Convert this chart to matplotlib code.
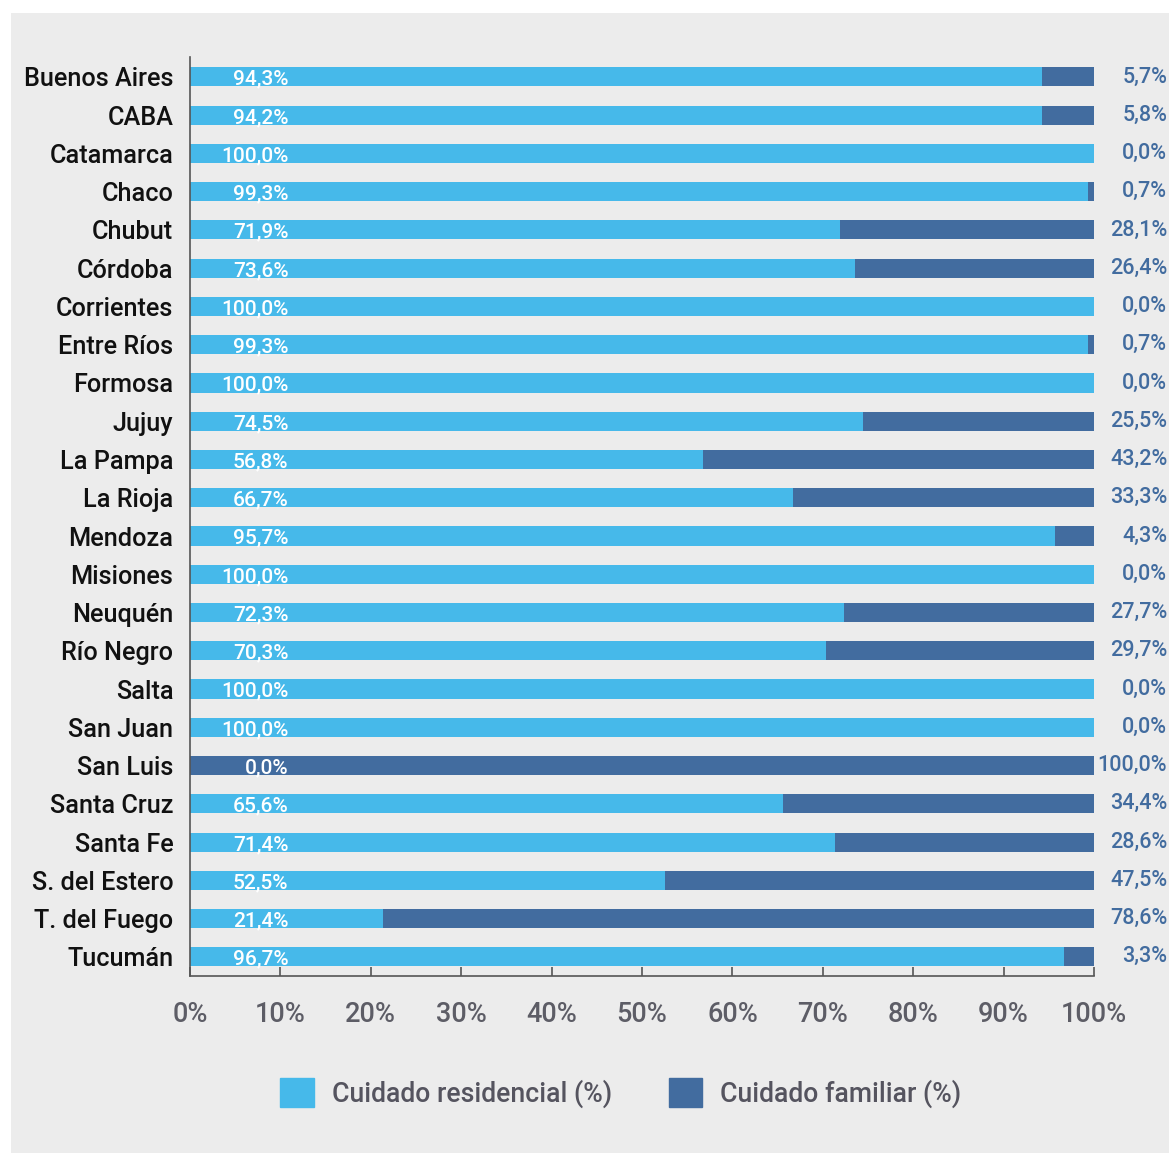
import numpy as np
import matplotlib.pyplot as plt
from matplotlib.patches import Rectangle, Patch

plt.rcParams['font.family'] = ['Roboto', 'DejaVu Sans']
plt.rcParams['font.weight'] = 'medium'

provincias = ['Buenos Aires', 'CABA', 'Catamarca', 'Chaco', 'Chubut', 'Córdoba',
              'Corrientes', 'Entre Ríos', 'Formosa', 'Jujuy', 'La Pampa', 'La Rioja',
              'Mendoza', 'Misiones', 'Neuquén', 'Río Negro', 'Salta', 'San Juan',
              'San Luis', 'Santa Cruz', 'Santa Fe', 'S. del Estero', 'T. del Fuego',
              'Tucumán']
residencial = [94.3, 94.2, 100.0, 99.3, 71.9, 73.6, 100.0, 99.3, 100.0, 74.5, 56.8,
               66.7, 95.7, 100.0, 72.3, 70.3, 100.0, 100.0, 0.0, 65.6, 71.4, 52.5,
               21.4, 96.7]
familiar = [5.7, 5.8, 0.0, 0.7, 28.1, 26.4, 0.0, 0.7, 0.0, 25.5, 43.2, 33.3, 4.3,
            0.0, 27.7, 29.7, 0.0, 0.0, 100.0, 34.4, 28.6, 47.5, 78.6, 3.3]
xticks = [0, 10, 20, 30, 40, 50, 60, 70, 80, 90, 100]

c_res = '#46b9ea'
c_fam = '#426c9f'
bg = '#ececec'

def fmt(v):
    return ('%.1f%%' % v).replace('.', ',')

fig = plt.figure(figsize=(11.69, 11.53), dpi=100, facecolor='white')
fig.patches.append(Rectangle((11 / 1169, 0), 1 - 11 / 1169, 1 - 13 / 1153,
                             transform=fig.transFigure, facecolor=bg,
                             edgecolor='none', zorder=-10))

ax = fig.add_axes([190 / 1169, 177 / 1153, 904 / 1169, 919 / 1153])
ax.set_facecolor(bg)

y = np.arange(len(provincias))
ax.barh(y, residencial, height=0.5, color=c_res)
ax.barh(y, familiar, left=residencial, height=0.5, color=c_fam)

for i in range(len(provincias)):
    ax.text(10.9, y[i] + 0.06, fmt(residencial[i]), ha='right', va='center',
            color='white', fontsize=15)
    ax.text(108.1, y[i] + 0.0, fmt(familiar[i]), ha='right', va='center',
            color=c_fam, fontsize=15.5, clip_on=False)

ax.set_xlim(0, 100)
ax.set_ylim(23.5, -0.52)
ax.set_yticks(y)
ax.set_yticklabels(provincias, fontsize=18.2, color='#111111')
ax.tick_params(axis='y', length=0, pad=12)
ax.set_xticks(xticks)
ax.set_xticklabels(['%d%%' % t for t in xticks], fontsize=19.5, color='#5d5d66')
ax.tick_params(axis='x', direction='in', length=6.5, width=1.2, color='#555555', pad=18)

for s in ['top', 'right']:
    ax.spines[s].set_visible(False)
for s in ['left', 'bottom']:
    ax.spines[s].set_color('#555555')
    ax.spines[s].set_linewidth(1.2)

handles = [Patch(color=c_res, label='Cuidado residencial (%)'),
           Patch(color=c_fam, label='Cuidado familiar (%)')]
leg = fig.legend(handles=handles, loc='center', bbox_to_anchor=(621 / 1169, 1 - 1093 / 1153),
                 ncol=2, frameon=False, fontsize=19.2, handlelength=1.25, handleheight=1.25,
                 handletextpad=0.7, columnspacing=2.1)
for t in leg.get_texts():
    t.set_color('#55545f')

fig.savefig('out.png', dpi=100, facecolor='white')
